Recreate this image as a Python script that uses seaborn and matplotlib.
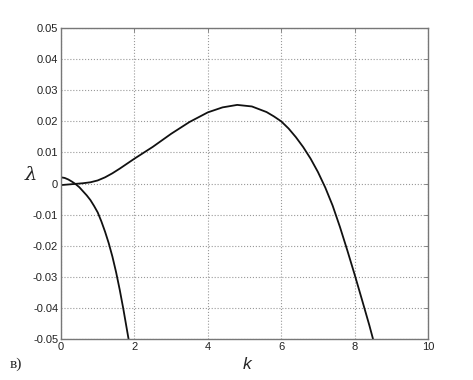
import numpy as np
import seaborn as sns
import pandas as pd
import matplotlib.pyplot as plt

# upper branch
k_upper = [0.0, 0.2, 0.4, 0.6, 0.8, 1.0, 1.2, 1.4, 1.6, 1.8, 2.0, 2.25, 2.5,
           3.0, 3.5, 4.0, 4.4, 4.8, 5.2, 5.6, 5.8, 6.0, 6.2, 6.4, 6.6, 6.8,
           7.0, 7.2, 7.4, 7.6, 7.8, 8.0, 8.2, 8.4, 8.5]
lam_upper = [-0.0005, -0.0003, -0.0001, 0.0001, 0.0004, 0.0010, 0.0020,
             0.0033, 0.0048, 0.0064, 0.0080, 0.0099, 0.0118, 0.0160, 0.0198,
             0.0229, 0.0245, 0.0253, 0.0248, 0.0230, 0.0216, 0.0200, 0.0177,
             0.0149, 0.0117, 0.0080, 0.0037, -0.0013, -0.0071, -0.0140,
             -0.0215, -0.0293, -0.0374, -0.0456, -0.0500]

# lower branch
k_lower = [0.0, 0.1, 0.2, 0.3, 0.4, 0.5, 0.6, 0.7, 0.8, 0.9, 1.0, 1.1, 1.2,
           1.3, 1.4, 1.5, 1.6, 1.7, 1.8, 1.84]
lam_lower = [0.0020, 0.0018, 0.0013, 0.0006, -0.0002, -0.0012, -0.0025,
             -0.0038, -0.0053, -0.0072, -0.0093, -0.0122, -0.0155, -0.0192,
             -0.0235, -0.0285, -0.0342, -0.0405, -0.0473, -0.0500]

x_ticks = [0, 2, 4, 6, 8, 10]
y_ticks = [-0.05, -0.04, -0.03, -0.02, -0.01, 0, 0.01, 0.02, 0.03, 0.04, 0.05]
y_tick_labels = ['-0.05', '-0.04', '-0.03', '-0.02', '-0.01', '0',
                 '0.01', '0.02', '0.03', '0.04', '0.05']

sns.set_style("white")
plt.rcParams['font.family'] = ['Liberation Sans', 'DejaVu Sans']

df_up = pd.DataFrame({'k': k_upper, 'lam': lam_upper})
df_lo = pd.DataFrame({'k': k_lower, 'lam': lam_lower})

fig = plt.figure(figsize=(4.73, 3.8), dpi=100)
ax = fig.add_axes([0.129, 0.108, 0.776, 0.818])

sns.lineplot(data=df_up, x='k', y='lam', ax=ax, color='#111111', lw=1.3, sort=False)
sns.lineplot(data=df_lo, x='k', y='lam', ax=ax, color='#111111', lw=1.3, sort=False)

ax.set_xlim(0, 10)
ax.set_ylim(-0.05, 0.05)
ax.set_xticks(x_ticks)
ax.set_xticklabels([str(t) for t in x_ticks], fontsize=8, color='#222222')
ax.set_yticks(y_ticks)
ax.set_yticklabels(y_tick_labels, fontsize=8, color='#222222')

ax.grid(True, linestyle=':', color='#999999', linewidth=0.8)
ax.tick_params(direction='in', length=3, width=0.6, color='#777777',
               top=True, right=True, pad=2)
for sp in ax.spines.values():
    sp.set_color('#777777')
    sp.set_linewidth(1.0)

ax.set_xlabel('')
ax.set_ylabel('')
fig.text(0.522, 0.04, 'k', fontsize=12.5, style='italic', ha='center', va='center')
fig.text(0.065, 0.54, 'λ', fontsize=14, style='italic', family='DejaVu Serif',
         ha='center', va='center')
fig.text(0.02, 0.042, 'в)', fontsize=11, family='Liberation Serif',
         ha='left', va='center')

fig.savefig('out.png', dpi=100)
